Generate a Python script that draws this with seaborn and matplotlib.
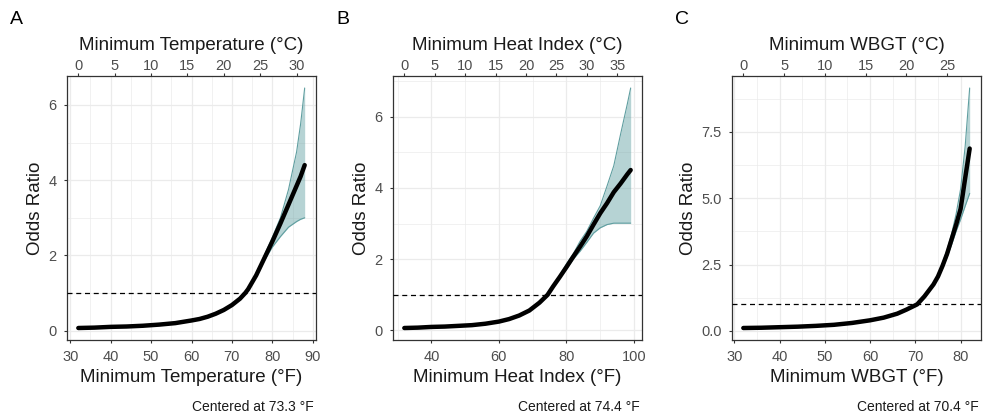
import matplotlib
matplotlib.use("Agg")
import matplotlib.pyplot as plt
import numpy as np
import pandas as pd
import seaborn as sns
from matplotlib.ticker import MultipleLocator, FixedLocator, FormatStrFormatter

# Panel A: minimum temperature
temp_f = [32, 36, 40, 44, 48, 52, 56, 60, 62, 64, 66, 68, 70, 72, 73.3, 74, 76, 78, 80, 82, 84, 86, 87, 88]
temp_or = [0.07, 0.08, 0.10, 0.11, 0.13, 0.16, 0.20, 0.27, 0.31, 0.37, 0.45, 0.55, 0.68, 0.85, 1.0, 1.1,
           1.47, 1.92, 2.37, 2.85, 3.35, 3.85, 4.1, 4.4]
temp_hi = [0.07, 0.08, 0.10, 0.11, 0.13, 0.16, 0.20, 0.27, 0.31, 0.37, 0.45, 0.55, 0.68, 0.85, 1.0, 1.1,
           1.5, 2.0, 2.48, 3.0, 3.75, 4.75, 5.5, 6.45]
temp_lo = [0.07, 0.08, 0.10, 0.11, 0.13, 0.16, 0.20, 0.27, 0.31, 0.37, 0.45, 0.55, 0.68, 0.85, 1.0, 1.1,
           1.44, 1.86, 2.22, 2.5, 2.75, 2.9, 2.96, 3.0]

# Panel B: minimum heat index
hi_f = [32, 36, 40, 44, 48, 52, 56, 60, 63, 66, 69, 72, 74.4, 76, 78, 80, 82, 84, 86, 88, 90, 92, 94, 96, 98, 99]
hi_or = [0.07, 0.08, 0.10, 0.11, 0.13, 0.15, 0.19, 0.25, 0.32, 0.42, 0.56, 0.78, 1.0, 1.23, 1.5, 1.78,
         2.07, 2.35, 2.64, 2.97, 3.29, 3.57, 3.88, 4.12, 4.38, 4.5]
hi_hi = [0.07, 0.08, 0.10, 0.11, 0.13, 0.15, 0.19, 0.25, 0.32, 0.42, 0.56, 0.78, 1.0, 1.25, 1.55, 1.87,
         2.15, 2.5, 2.78, 3.15, 3.5, 4.05, 4.62, 5.5, 6.35, 6.8]
hi_lo = [0.07, 0.08, 0.10, 0.11, 0.13, 0.15, 0.19, 0.25, 0.32, 0.42, 0.56, 0.78, 1.0, 1.21, 1.47, 1.72,
         2.0, 2.22, 2.47, 2.73, 2.88, 2.97, 3.01, 3.01, 3.01, 3.01]

# Panel C: minimum WBGT
wbgt_f = [32, 36, 40, 44, 48, 52, 56, 60, 63, 66, 68, 70.4, 72, 74, 75, 76, 77, 78, 79, 80, 81, 82]
wbgt_or = [0.11, 0.12, 0.14, 0.16, 0.19, 0.23, 0.30, 0.40, 0.50, 0.65, 0.80, 1.0, 1.30, 1.75, 2.05, 2.45,
           2.90, 3.45, 4.0, 4.6, 5.75, 6.87]
wbgt_hi = [0.11, 0.12, 0.14, 0.16, 0.19, 0.23, 0.30, 0.40, 0.50, 0.65, 0.80, 1.0, 1.30, 1.8, 2.12, 2.55,
           3.05, 3.65, 4.4, 5.35, 6.95, 9.15]
wbgt_lo = [0.11, 0.12, 0.14, 0.16, 0.19, 0.23, 0.30, 0.40, 0.50, 0.65, 0.80, 1.0, 1.30, 1.72, 2.0, 2.36,
           2.78, 3.25, 3.75, 4.2, 4.7, 5.18]

panels = [
    ("A", "Minimum Temperature", 73.3, temp_f, temp_or, temp_lo, temp_hi, 10, 5, 2, 1),
    ("B", "Minimum Heat Index", 74.4, hi_f, hi_or, hi_lo, hi_hi, 20, 10, 2, 1),
    ("C", "Minimum WBGT", 70.4, wbgt_f, wbgt_or, wbgt_lo, wbgt_hi, 10, 5, 2.5, 1.25),
]

boxes = [(67, 316), (393, 642), (732, 981)]

sns.set_theme(style="white")
plt.rcParams["font.family"] = ["Liberation Sans", "DejaVu Sans"]

W, H = 983, 420
fig = plt.figure(figsize=(W / 100, H / 100), dpi=100)

edge = "#333333"
teal = "#5F9EA0"


def f_to_c(f):
    return (np.asarray(f) - 32) * 5 / 9


def c_to_f(c):
    return np.asarray(c) * 9 / 5 + 32


for (letter, name, center, xs, ors, los, his, xmaj, xmin, ymaj, ymin), (l, r) in zip(panels, boxes):
    ax = fig.add_axes([l / W, 1 - 340 / H, (r - l) / W, 264 / H])
    df = pd.DataFrame({"F": xs, "OR": ors, "lo": los, "hi": his})

    ax.fill_between(df["F"], df["lo"], df["hi"], color=teal, alpha=0.45, lw=0, zorder=2)
    sns.lineplot(data=df, x="F", y="hi", ax=ax, color=teal, lw=0.8, zorder=3)
    sns.lineplot(data=df, x="F", y="lo", ax=ax, color=teal, lw=0.8, zorder=3)
    sns.lineplot(data=df, x="F", y="OR", ax=ax, color="black", lw=3.2, zorder=4)
    ax.axhline(1, color="black", ls=(0, (4, 3)), lw=0.9, zorder=3)

    ax.margins(x=0.05, y=0.05)
    ax.xaxis.set_major_locator(MultipleLocator(xmaj))
    ax.xaxis.set_minor_locator(MultipleLocator(xmin))
    ax.yaxis.set_major_locator(MultipleLocator(ymaj))
    ax.yaxis.set_minor_locator(MultipleLocator(ymin))
    if ymaj == 2.5:
        ax.yaxis.set_major_formatter(FormatStrFormatter("%.1f"))
    ax.grid(which="major", color="#EBEBEB", lw=0.9, zorder=0)
    ax.grid(which="minor", color="#EBEBEB", lw=0.5, zorder=0)
    ax.set_axisbelow(True)

    for s in ax.spines.values():
        s.set_color(edge)
        s.set_linewidth(0.9)
    ax.tick_params(which="major", direction="out", length=2.5, width=0.8, color=edge,
                   labelsize=10.5, labelcolor="#4D4D4D", pad=5, bottom=True, left=True)
    ax.tick_params(which="minor", length=0)

    ax.set_xlabel(f"{name} (°F)", fontsize=13.5, color="#1A1A1A", labelpad=3)
    ax.set_ylabel("Odds Ratio", fontsize=13.5, color="#1A1A1A", labelpad=3)

    lo_f, hi_f_lim = ax.get_xlim()
    c_ticks = [c for c in range(-20, 60, 5) if f_to_c(lo_f) <= c <= f_to_c(hi_f_lim)]
    sec = ax.secondary_xaxis("top", functions=(f_to_c, c_to_f))
    sec.xaxis.set_major_locator(FixedLocator(c_ticks))
    sec.tick_params(direction="out", length=2.5, width=0.8, color=edge,
                    labelsize=10.5, labelcolor="#4D4D4D", pad=0)
    sec.spines["top"].set_visible(False)
    sec.set_xlabel(f"{name} (°C)", fontsize=13.5, color="#1A1A1A", labelpad=6)

    fig.text((r - 2) / W, 1 - 407 / H, f"Centered at {center} °F", ha="right", va="center",
             fontsize=10, color="#1A1A1A")
    fig.text((l - 57) / W, 1 - 19 / H, letter, ha="left", va="center", fontsize=14, color="black")

fig.savefig("out.png", dpi=100)
